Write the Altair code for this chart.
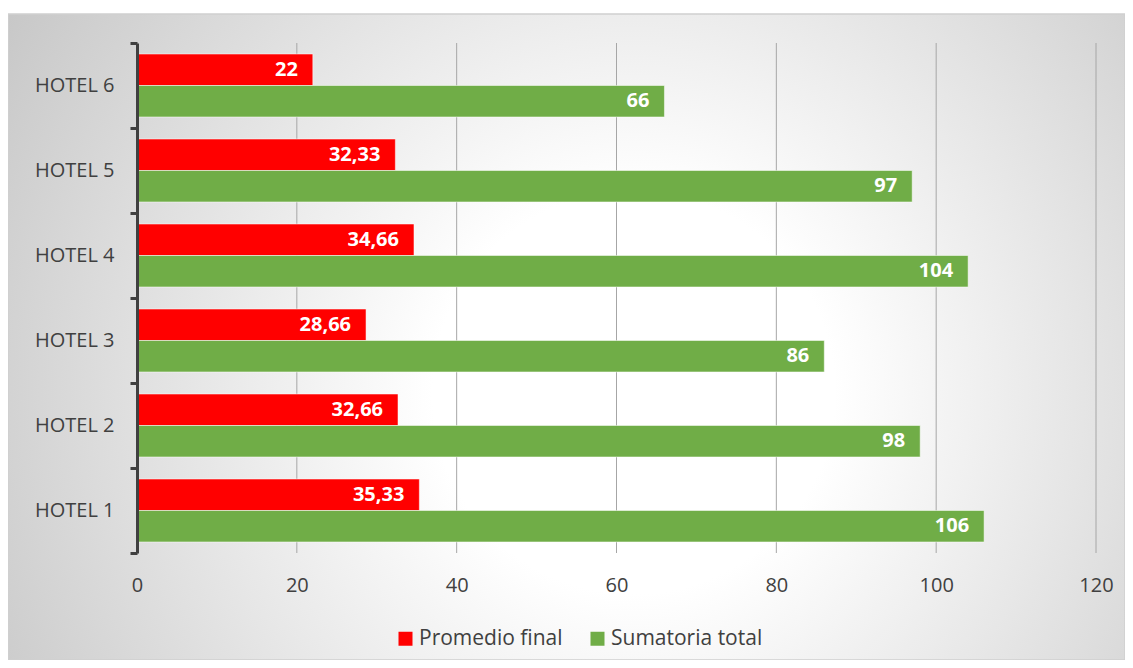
import altair as alt
import pandas as pd

hotels = ["HOTEL 1", "HOTEL 2", "HOTEL 3", "HOTEL 4", "HOTEL 5", "HOTEL 6"]
promedio = [35.33, 32.66, 28.66, 34.66, 32.33, 22]
sumatoria = [106, 98, 86, 104, 97, 66]
series = ["Promedio final", "Sumatoria total"]
colors = ["#FF0000", "#70AD47"]
x_ticks = [0, 20, 40, 60, 80, 100, 120]
grid_ticks = [20, 40, 60, 80, 100, 120]

rows = []
for h, p, s in zip(hotels, promedio, sumatoria):
    rows.append({"hotel": h, "serie": series[0], "valor": p})
    rows.append({"hotel": h, "serie": series[1], "valor": s})
df = pd.DataFrame(rows)

W, H = 959, 510
FONT = "Open Sans"
TXT = "#404040"

x_scale = alt.Scale(domain=[0, 120], nice=False)
y_scale = alt.Scale(paddingInner=0, paddingOuter=0)
off_scale = alt.Scale(paddingInner=0, paddingOuter=0.35)
y_sort = hotels[::-1]

bg = alt.Chart(pd.DataFrame({"a": [0]})).mark_rect(
    fill=alt.RadialGradient(
        gradient="radial", x1=0.56, y1=0.55, x2=0.56, y2=0.55, r1=0, r2=0.72,
        stops=[alt.GradientStop(color="#ffffff", offset=0),
               alt.GradientStop(color="#ffffff", offset=0.25),
               alt.GradientStop(color="#c0c0c0", offset=1)]),
    stroke="#d0d0d0", strokeWidth=1.5,
).encode(x=alt.value(-129), x2=alt.value(988), y=alt.value(-29), y2=alt.value(617))

grid = alt.Chart(pd.DataFrame({"t": grid_ticks})).mark_rule(
    color="#a6a6a6", strokeWidth=1
).encode(x=alt.X("t:Q", scale=x_scale))

bars = alt.Chart(df).mark_bar(
    stroke="white", strokeOpacity=0.5, strokeWidth=1
).encode(
    y=alt.Y("hotel:N", sort=y_sort, scale=y_scale, axis=alt.Axis(
        title=None, domainColor=TXT, domainWidth=3, tickColor=TXT, tickWidth=3,
        tickSize=7, tickBand="extent", labelFont=FONT, labelFontSize=20,
        labelColor=TXT, labelPadding=16, grid=False, zindex=2)),
    yOffset=alt.YOffset("serie:N", sort=series, scale=off_scale),
    x=alt.X("valor:Q", scale=x_scale, axis=alt.Axis(
        title=None, domain=False, ticks=False, grid=False, values=x_ticks,
        labelFlush=False, labelPadding=22, labelFont=FONT, labelFontSize=20,
        labelColor=TXT, zindex=2)),
    color=alt.Color("serie:N", scale=alt.Scale(domain=series, range=colors),
                    legend=alt.Legend(
                        title=None, orient="none", legendX=258, legendY=585,
                        direction="horizontal", symbolType="square",
                        symbolSize=196, symbolStrokeWidth=0, labelFont=FONT,
                        labelFontSize=21, labelColor=TXT, columnPadding=24,
                        labelOffset=3, zindex=2)),
)

labels = alt.Chart(df).transform_calculate(
    lbl="replace(toString(datum.valor), '.', ',')"
).mark_text(
    align="right", baseline="middle", dx=-15, color="white",
    fontWeight="bold", fontSize=20, font=FONT
).encode(
    y=alt.Y("hotel:N", sort=y_sort, scale=y_scale),
    yOffset=alt.YOffset("serie:N", sort=series, scale=off_scale),
    x=alt.X("valor:Q", scale=x_scale),
    text="lbl:N",
)

chart = alt.layer(bg, grid, bars, labels).properties(
    width=W, height=H,
    autosize="none",
    padding={"left": 129, "top": 35, "right": 29, "bottom": 107},
    background="white",
).configure_view(stroke=None)

chart.save("out.html", embed_options={"renderer": "svg", "actions": False})
